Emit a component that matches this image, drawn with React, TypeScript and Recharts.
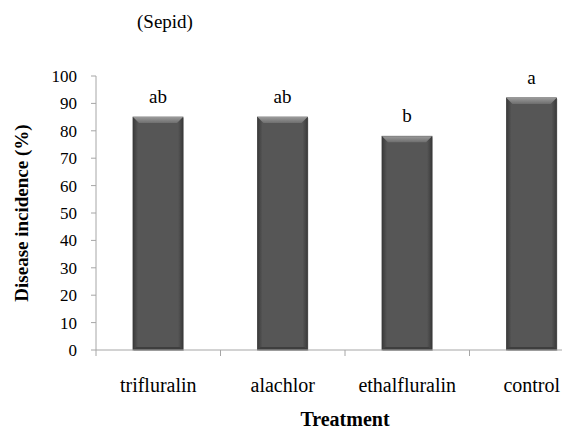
import React from "react";
import { BarChart, Bar, XAxis, YAxis, LabelList, Label } from "recharts";

// Data
const treatments = ["trifluralin", "alachlor", "ethalfluralin", "control"];
const incidence = [85, 85, 78, 92];
const letters = ["ab", "ab", "b", "a"];
const yTicks = [0, 10, 20, 30, 40, 50, 60, 70, 80, 90, 100];

const data = treatments.map((name, i) => ({
  name,
  value: incidence[i],
  letter: letters[i],
}));

const FONT = "Liberation Serif, Tinos, DejaVu Serif, serif";
const AXIS = "#a6a6a6";

// Bevelled dark-grey bar like the spreadsheet original
const BevelBar = (props: any) => {
  const { x, y, width, height } = props;
  if (!height || height <= 0) return null;
  const b = 6;
  return (
    <g>
      <rect x={x + 1} y={y + 1} width={width} height={height} fill="#cfcfcf" />
      <rect x={x} y={y} width={width} height={height} fill="url(#barBody)" stroke="#3a3a3a" strokeWidth={0.8} />
      <polygon
        points={`${x},${y} ${x + width},${y} ${x + width - b},${y + b} ${x + b},${y + b}`}
        fill="url(#barTop)"
      />
      <polygon
        points={`${x},${y + height} ${x + width},${y + height} ${x + width - 3},${y + height - 3} ${x + 3},${y + height - 3}`}
        fill="#3e3e3e"
      />
    </g>
  );
};

// Category tick: text plus a tick mark at the left edge of each band
const CategoryTick = (props: any) => {
  const { x, y, payload, index } = props;
  const off = payload && payload.offset ? payload.offset : 62;
  return (
    <g>
      <line x1={x - off} y1={y} x2={x - off} y2={y + 6} stroke={AXIS} />
      {index === treatments.length - 1 && (
        <line x1={x + off} y1={y} x2={x + off} y2={y + 6} stroke={AXIS} />
      )}
      <text x={x} y={y + 42} textAnchor="middle" fontSize={20} style={{ fontFamily: FONT }} fill="#000">
        {payload.value}
      </text>
    </g>
  );
};

export default function App() {
  return (
    <div
      style={{
        position: "fixed",
        left: 0,
        top: 0,
        width: 562,
        height: 432,
        overflow: "hidden",
        background: "#fff",
        fontFamily: FONT,
      }}
    >
      <div
        style={{
          position: "absolute",
          left: 137,
          top: 11,
          fontFamily: FONT,
          fontSize: 19,
          color: "#000",
        }}
      >
        (Sepid)
      </div>
      <BarChart
        width={610}
        height={432}
        data={data}
        margin={{ top: 76, right: 16, left: 0, bottom: 0 }}
        style={{ fontFamily: FONT }}
      >
        <defs>
          <linearGradient id="barBody" x1="0" y1="0" x2="1" y2="0">
            <stop offset="0%" stopColor="#3a3a3a" />
            <stop offset="10%" stopColor="#565656" />
            <stop offset="90%" stopColor="#565656" />
            <stop offset="100%" stopColor="#3a3a3a" />
          </linearGradient>
          <linearGradient id="barTop" x1="0" y1="0" x2="0" y2="1">
            <stop offset="0%" stopColor="#9a9a9a" />
            <stop offset="100%" stopColor="#6e6e6e" />
          </linearGradient>
        </defs>
        <XAxis
          dataKey="name"
          height={82}
          axisLine={{ stroke: AXIS }}
          tickLine={false}
          tickSize={0}
          tickMargin={0}
          interval={0}
          tick={<CategoryTick />}
        >
          <Label
            content={(p: any) => {
              const vb = p.viewBox || {};
              return (
                <text
                  x={vb.x + vb.width / 2}
                  y={vb.y + 76}
                  textAnchor="middle"
                  fontSize={20}
                  fontWeight="bold"
                  style={{ fontFamily: FONT }}
                  fill="#000"
                >
                  Treatment
                </text>
              );
            }}
          />
        </XAxis>
        <YAxis
          width={96}
          domain={[0, 100]}
          ticks={yTicks}
          interval={0}
          axisLine={{ stroke: AXIS }}
          tickLine={{ stroke: AXIS }}
          tickSize={5}
          tickMargin={14}
          tick={{ fill: "#000", fontSize: 17, fontFamily: FONT }}
        >
          <Label
            content={(p: any) => {
              const vb = p.viewBox || {};
              const cx = 21;
              const cy = vb.y + vb.height / 2;
              return (
                <text
                  x={cx}
                  y={cy}
                  transform={`rotate(-90 ${cx} ${cy})`}
                  textAnchor="middle"
                  dominantBaseline="central"
                  fontSize={19}
                  fontWeight="bold"
                  style={{ fontFamily: FONT }}
                  fill="#000"
                >
                  Disease incidence (%)
                </text>
              );
            }}
          />
        </YAxis>
        <Bar dataKey="value" barSize={50} shape={<BevelBar />} isAnimationActive={false}>
          <LabelList
            dataKey="letter"
            position="top"
            offset={14}
            style={{ fill: "#000", fontSize: 19, fontFamily: FONT }}
          />
        </Bar>
      </BarChart>
    </div>
  );
}
